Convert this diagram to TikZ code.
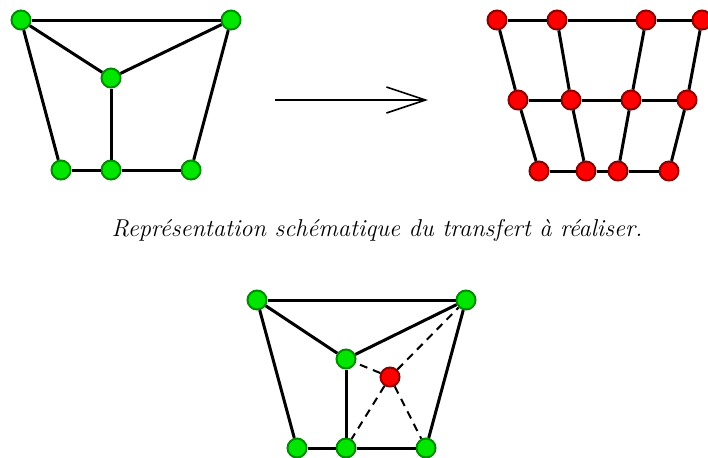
\documentclass[tikz,border=0pt]{standalone}
\usetikzlibrary{arrows.meta}
\definecolor{ptvert}{RGB}{0,230,0}
\definecolor{ptvertbord}{RGB}{0,140,0}
\definecolor{ptrouge}{RGB}{255,0,0}
\definecolor{ptrougebord}{RGB}{140,0,0}
\newcommand{\HY}{20}
\newcommand{\MY}{100}
\newcommand{\BY}{171}

\begin{document}
\begin{tikzpicture}[
    x=0.5pt, y=-0.5pt,
    arete/.style={draw=black, line width=1.5pt},
    pointille/.style={draw=black, line width=1pt, dash pattern=on 4pt off 3pt},
    V/.style={circle, draw=ptvertbord, fill=ptvert, line width=1pt, minimum size=9.5pt, inner sep=0pt},
    R/.style={circle, draw=ptrougebord, fill=ptrouge, line width=1pt, minimum size=9.5pt, inner sep=0pt},
    legende/.style={font=\itshape\fontsize{12.2}{15}\selectfont},
  ]
  \useasboundingbox (0,0) rectangle (708,457);

  %% maillage de depart
  \node[V] (g1) at (21,20)  {};
  \node[V] (g2) at (231,20) {};
  \node[V] (g3) at (111,78) {};
  \node[V] (g4) at (61,170) {};
  \node[V] (g5) at (111,170) {};
  \node[V] (g6) at (191,170) {};
  \draw[arete] (g1) -- (g2);
  \draw[arete] (g1) -- (g3);
  \draw[arete] (g2) -- (g3);
  \draw[arete] (g1) -- (g4);
  \draw[arete] (g2) -- (g6);
  \draw[arete] (g3) -- (g5);
  \draw[arete] (g4) -- (g5);
  \draw[arete] (g5) -- (g6);

  %% fleche
  \coordinate (fa) at (275,100);
  \coordinate (fb) at (428,100);
  \draw[line width=0.65pt, -{Straight Barb[length=19.5pt, width=13pt, line width=0.8pt]}] (fa) -- (fb);

  %% maillage d'arrivee: 3 rangees de 4 points
  \foreach \x [count=\c] in {497,557,646,702} { \node[R] (h\c) at (\x,\HY) {}; }
  \foreach \x [count=\c] in {518,571,631,687} { \node[R] (m\c) at (\x,\MY) {}; }
  \foreach \x [count=\c] in {539,586,618,669} { \node[R] (b\c) at (\x,\BY) {}; }
  \foreach \c in {1,...,4} { \draw[arete] (h\c) -- (m\c) -- (b\c); }
  \foreach \r in {h,m,b} { \draw[arete] (\r1) -- (\r2) -- (\r3) -- (\r4); }

  \node[legende] (titre) at (377,230) {Représentation schématique du transfert à réaliser.};

  %% localisation d'un point dans le maillage de depart
  \node[V] (s1) at (257,300) {};
  \node[V] (s2) at (466,300) {};
  \node[V] (s3) at (346,359) {};
  \node[V] (s4) at (297,448) {};
  \node[V] (s5) at (346,448) {};
  \node[V] (s6) at (426,448) {};
  \node[R] (p)  at (390,377) {};
  \draw[arete] (s1) -- (s2);
  \draw[arete] (s1) -- (s3);
  \draw[arete] (s2) -- (s3);
  \draw[arete] (s1) -- (s4);
  \draw[arete] (s2) -- (s6);
  \draw[arete] (s3) -- (s5);
  \draw[arete] (s4) -- (s5);
  \draw[arete] (s5) -- (s6);
  \foreach \s in {s2,s3,s5,s6} { \draw[pointille] (p) -- (\s); }

\end{tikzpicture}
\end{document}
